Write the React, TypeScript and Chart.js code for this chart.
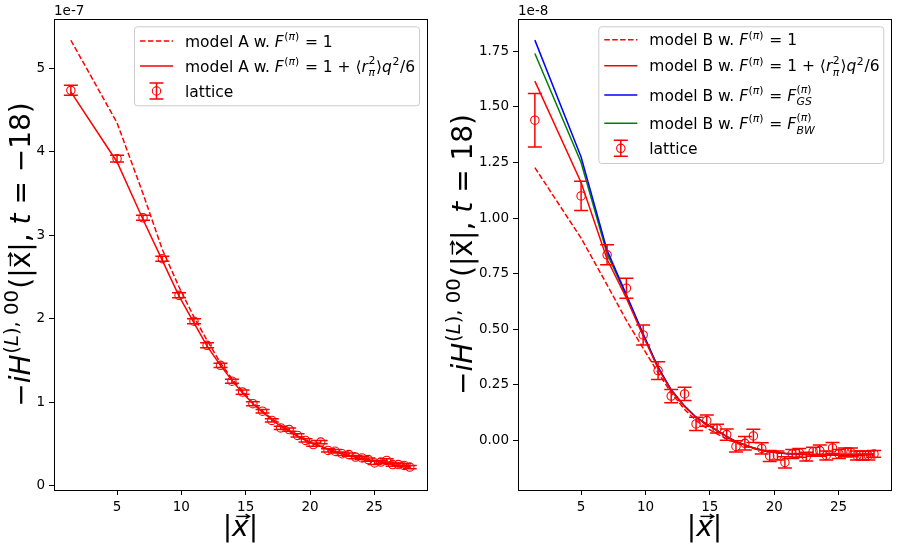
import { useEffect, useRef } from 'react';
import { Chart, registerables } from 'chart.js';
Chart.register(...registerables);

// ---------------- data ----------------
const X_ABS = [1.41, 5.0, 7.02, 8.52, 9.82, 10.98, 12.0, 13.04, 13.93, 14.76, 15.56, 16.31, 17.03, 17.72, 18.38, 19.03, 19.65, 20.25, 20.83, 21.4, 21.95, 22.49, 23.02, 23.54, 24.04, 24.53, 25.02, 25.5, 25.96, 26.42, 26.87, 27.31, 27.75];

// left panel, units of 1e-7
const A_LATTICE = [4.74, 3.92, 3.21, 2.72, 2.28, 1.97, 1.68, 1.44, 1.25, 1.12, 0.98, 0.89, 0.78, 0.69, 0.67, 0.60, 0.54, 0.49, 0.52, 0.42, 0.41, 0.38, 0.37, 0.34, 0.33, 0.31, 0.27, 0.28, 0.30, 0.25, 0.25, 0.24, 0.22];
const A_LATTICE_ERR = [0.06, 0.04, 0.03, 0.03, 0.03, 0.03, 0.03, 0.025, 0.025, 0.025, 0.025, 0.02, 0.02, 0.02, 0.02, 0.02, 0.02, 0.02, 0.02, 0.02, 0.02, 0.02, 0.02, 0.02, 0.02, 0.02, 0.02, 0.02, 0.02, 0.02, 0.02, 0.02, 0.02];
const A_MODEL_F1 = [5.34, 4.35, 3.50, 2.83, 2.38, 2.02, 1.74, 1.47, 1.28, 1.13, 0.99, 0.89, 0.80, 0.72, 0.66, 0.60, 0.55, 0.50, 0.47, 0.44, 0.41, 0.38, 0.36, 0.34, 0.32, 0.31, 0.29, 0.28, 0.27, 0.25, 0.24, 0.23, 0.22];
const A_MODEL_RADIUS = [4.72, 3.88, 3.19, 2.70, 2.27, 1.95, 1.67, 1.44, 1.26, 1.11, 0.98, 0.88, 0.79, 0.71, 0.65, 0.59, 0.54, 0.50, 0.47, 0.43, 0.40, 0.38, 0.36, 0.34, 0.32, 0.30, 0.29, 0.28, 0.26, 0.25, 0.24, 0.23, 0.22];

// right panel, units of 1e-8
const B_LATTICE = [1.44, 1.10, 0.835, 0.685, 0.475, 0.315, 0.20, 0.21, 0.075, 0.09, 0.054, 0.027, -0.026, -0.012, 0.021, -0.035, -0.069, -0.067, -0.098, -0.06, -0.055, -0.072, -0.05, -0.045, -0.067, -0.033, -0.06, -0.053, -0.053, -0.067, -0.067, -0.067, -0.06];
const B_LATTICE_ERR = [0.12, 0.066, 0.045, 0.045, 0.045, 0.04, 0.03, 0.03, 0.03, 0.025, 0.02, 0.025, 0.025, 0.03, 0.03, 0.025, 0.025, 0.02, 0.025, 0.02, 0.02, 0.02, 0.02, 0.025, 0.02, 0.025, 0.02, 0.02, 0.02, 0.02, 0.02, 0.02, 0.015];
const B_MODEL_F1 = [1.227, 0.91, 0.70, 0.54, 0.415, 0.305, 0.215, 0.14, 0.09, 0.056, 0.03, 0.008, -0.01, -0.025, -0.036, -0.045, -0.05, -0.055, -0.058, -0.06, -0.061, -0.062, -0.062, -0.062, -0.062, -0.062, -0.062, -0.062, -0.062, -0.062, -0.061, -0.061, -0.061];
const B_MODEL_RADIUS = [1.616, 1.16, 0.815, 0.64, 0.47, 0.325, 0.225, 0.153, 0.104, 0.073, 0.045, 0.018, -0.005, -0.02, -0.033, -0.043, -0.05, -0.054, -0.057, -0.059, -0.06, -0.061, -0.062, -0.062, -0.062, -0.062, -0.062, -0.062, -0.062, -0.062, -0.061, -0.061, -0.061];
const B_MODEL_GS = [1.80, 1.275, 0.855, 0.655, 0.48, 0.33, 0.228, 0.155, 0.105, 0.073, 0.045, 0.018, -0.005, -0.02, -0.033, -0.043, -0.05, -0.055, -0.058, -0.06, -0.062, -0.063, -0.064, -0.064, -0.065, -0.065, -0.065, -0.065, -0.065, -0.065, -0.065, -0.064, -0.064];
const B_MODEL_BW = [1.74, 1.25, 0.84, 0.65, 0.477, 0.328, 0.227, 0.155, 0.105, 0.074, 0.046, 0.019, -0.004, -0.019, -0.032, -0.042, -0.049, -0.054, -0.057, -0.059, -0.06, -0.061, -0.062, -0.062, -0.062, -0.062, -0.062, -0.062, -0.062, -0.062, -0.061, -0.061, -0.061];

const X_TICKS = [5, 10, 15, 20, 25];
const A_Y_TICKS = [0, 1, 2, 3, 4, 5];
const B_Y_TICKS = [0, 0.25, 0.5, 0.75, 1.0, 1.25, 1.5, 1.75];

// ---------------- rich text ----------------
type Seg = { t?: string; it?: boolean; vec?: boolean; sup?: Seg[]; sub?: Seg[] };
const FONT = '"DejaVu Sans"';

const F_PI: Seg[] = [{ t: 'F', it: true }, { sup: [{ t: '(' }, { t: 'π', it: true }, { t: ')' }] }];
const RADIUS_TXT: Seg[] = [{ t: ' = 1 + ⟨' }, { t: 'r', it: true }, { sup: [{ t: '2' }], sub: [{ t: 'π', it: true }] }, { t: '⟩' }, { t: 'q', it: true }, { sup: [{ t: '2' }] }, { t: '/6' }];
const X_TITLE: Seg[] = [{ t: '|' }, { t: 'x', it: true, vec: true }, { t: '|' }];
const Y_TITLE_A: Seg[] = [{ t: '−' }, { t: 'iH', it: true }, { sup: [{ t: '(' }, { t: 'L', it: true }, { t: '), 00' }] }, { t: '(|' }, { t: 'x', vec: true }, { t: '|, ' }, { t: 't', it: true }, { t: ' = −18)' }];
const Y_TITLE_B: Seg[] = [{ t: '−' }, { t: 'iH', it: true }, { sup: [{ t: '(' }, { t: 'L', it: true }, { t: '), 00' }] }, { t: '(|' }, { t: 'x', vec: true }, { t: '|, ' }, { t: 't', it: true }, { t: ' = 18)' }];

function drawSegs(ctx: CanvasRenderingContext2D, segs: Seg[], x: number, y: number, size: number, draw: boolean): number {
  let cx = x;
  for (const s of segs) {
    if (s.t !== undefined) {
      ctx.font = `${s.it ? 'italic ' : ''}${size}px ${FONT}`;
      const w = ctx.measureText(s.t).width;
      if (draw) {
        ctx.fillText(s.t, cx, y);
        if (s.vec) {
          const sh = s.it ? size * 0.08 : 0;
          const a0 = cx + w * 0.12 + sh, a1 = cx + w * 0.92 + sh, ay = y - size * 0.7;
          ctx.save();
          ctx.lineWidth = size * 0.05;
          ctx.strokeStyle = ctx.fillStyle as string;
          ctx.beginPath(); ctx.moveTo(a0, ay); ctx.lineTo(a1, ay); ctx.stroke();
          ctx.beginPath();
          ctx.moveTo(a1 - size * 0.14, ay - size * 0.08); ctx.lineTo(a1, ay); ctx.lineTo(a1 - size * 0.14, ay + size * 0.08);
          ctx.stroke();
          ctx.restore();
        }
      }
      cx += w;
    }
    if (s.sup || s.sub) {
      const sz = size * 0.7;
      const both = !!(s.sup && s.sub);
      let w1 = 0, w2 = 0;
      if (s.sup) w1 = drawSegs(ctx, s.sup, cx + size * 0.03, y - size * (both ? 0.5 : 0.42), sz, draw);
      if (s.sub) w2 = drawSegs(ctx, s.sub, cx + size * 0.03, y + size * (both ? 0.3 : 0.2), sz, draw);
      cx += Math.max(w1, w2) + size * 0.08;
    }
  }
  return cx - x;
}

// ---------------- panels ----------------
type LegendEntry = { kind: 'dash' | 'line' | 'err'; color: string; segs: Seg[] };
type Panel = {
  canvasLeft: number; canvasW: number;
  yMin: number; yMax: number; yTicks: number[]; yFmt: (v: number) => string;
  yAxisW: number; padRight: number; offsetText: string; yTitle: Seg[]; yTitleGap: number;
  lines: { data: number[]; color: string; dash: boolean }[];
  lattice: number[]; err: number[];
  legendH: number; legendRows: number[]; legend: LegendEntry[];
};

const RED = '#ff0000';
const PANELS: Panel[] = [
  {
    canvasLeft: 0, canvasW: 432,
    yMin: -0.055, yMax: 5.595, yTicks: A_Y_TICKS, yFmt: (v) => String(v),
    yAxisW: 54, padRight: 5, offsetText: '1e-7', yTitle: Y_TITLE_A, yTitleGap: 24,
    lines: [
      { data: A_MODEL_F1, color: RED, dash: true },
      { data: A_MODEL_RADIUS, color: RED, dash: false },
    ],
    lattice: A_LATTICE, err: A_LATTICE_ERR,
    legendH: 79, legendRows: [14.7, 39.7, 64.7],
    legend: [
      { kind: 'dash', color: RED, segs: [{ t: 'model A w. ' }, ...F_PI, { t: ' = 1' }] },
      { kind: 'line', color: RED, segs: [{ t: 'model A w. ' }, ...F_PI, ...RADIUS_TXT] },
      { kind: 'err', color: RED, segs: [{ t: 'lattice' }] },
    ],
  },
  {
    canvasLeft: 432, canvasW: 466,
    yMin: -0.222, yMax: 1.895, yTicks: B_Y_TICKS, yFmt: (v) => v.toFixed(2),
    yAxisW: 86, padRight: 7, offsetText: '1e-8', yTitle: Y_TITLE_B, yTitleGap: 46,
    lines: [
      { data: B_MODEL_F1, color: RED, dash: true },
      { data: B_MODEL_RADIUS, color: RED, dash: false },
      { data: B_MODEL_GS, color: '#0000ff', dash: false },
      { data: B_MODEL_BW, color: '#008000', dash: false },
    ],
    lattice: B_LATTICE, err: B_LATTICE_ERR,
    legendH: 136.7, legendRows: [13.4, 39.4, 68.7, 97, 122],
    legend: [
      { kind: 'dash', color: RED, segs: [{ t: 'model B w. ' }, ...F_PI, { t: ' = 1' }] },
      { kind: 'line', color: RED, segs: [{ t: 'model B w. ' }, ...F_PI, ...RADIUS_TXT] },
      { kind: 'line', color: '#0000ff', segs: [{ t: 'model B w. ' }, ...F_PI, { t: ' = ' }, { t: 'F', it: true }, { sup: [{ t: '(' }, { t: 'π', it: true }, { t: ')' }], sub: [{ t: 'GS', it: true }] }] },
      { kind: 'line', color: '#008000', segs: [{ t: 'model B w. ' }, ...F_PI, { t: ' = ' }, { t: 'F', it: true }, { sup: [{ t: '(' }, { t: 'π', it: true }, { t: ')' }], sub: [{ t: 'BW', it: true }] }] },
      { kind: 'err', color: RED, segs: [{ t: 'lattice' }] },
    ],
  },
];

const CH = 547;
const TOP = 19, BOTTOM = 490;
const TICK_FONT = 13.5;
const LEGEND_FONT = 15.5;
const TITLE_FONT = 28;
const DASH = [5.5, 2.4];
const CAP = 7;
const LEG_W = 285;

function drawErr(ctx: CanvasRenderingContext2D, x: number, y1: number, y2: number) {
  ctx.beginPath();
  ctx.moveTo(x, y1); ctx.lineTo(x, y2);
  ctx.moveTo(x - CAP, y1); ctx.lineTo(x + CAP, y1);
  ctx.moveTo(x - CAP, y2); ctx.lineTo(x + CAP, y2);
  ctx.stroke();
}

function makeConfig(p: Panel): any {
  const datasets: any[] = p.lines.map((l) => ({
    data: X_ABS.map((x, i) => ({ x, y: l.data[i] })),
    showLine: true, borderColor: l.color, borderWidth: 1.5, borderDash: l.dash ? DASH : [],
    pointRadius: 0, tension: 0, fill: false,
  }));
  datasets.push({
    data: X_ABS.map((x, i) => ({ x, y: p.lattice[i] })),
    showLine: false, pointRadius: 4.2, pointBorderWidth: 1.1,
    pointBorderColor: RED, pointBackgroundColor: 'rgba(0,0,0,0)', borderColor: RED,
  });

  const decor = {
    id: 'decor',
    afterDatasetsDraw(chart: any) {
      const ctx: CanvasRenderingContext2D = chart.ctx;
      const xs = chart.scales.x, ys = chart.scales.y;
      const ca = chart.chartArea;
      ctx.save();
      ctx.beginPath(); ctx.rect(ca.left, ca.top, ca.right - ca.left, ca.bottom - ca.top); ctx.clip();
      ctx.strokeStyle = RED; ctx.lineWidth = 1.5;
      X_ABS.forEach((x, i) => {
        const px = xs.getPixelForValue(x);
        drawErr(ctx, px, ys.getPixelForValue(p.lattice[i] + p.err[i]), ys.getPixelForValue(p.lattice[i] - p.err[i]));
      });
      ctx.restore();

      ctx.save();
      ctx.strokeStyle = '#000'; ctx.lineWidth = 1;
      ctx.strokeRect(Math.round(ca.left) + 0.5, Math.round(ca.top) + 0.5, Math.round(ca.right - ca.left), Math.round(ca.bottom - ca.top));

      // legend
      const bx = ca.right - 7.7 - LEG_W, by = ca.top + 7.3;
      ctx.beginPath();
      (ctx as any).roundRect(bx + 0.5, by + 0.5, LEG_W, p.legendH, 3);
      ctx.fillStyle = 'rgba(255,255,255,0.8)'; ctx.fill();
      ctx.strokeStyle = '#cccccc'; ctx.lineWidth = 1; ctx.stroke();
      p.legend.forEach((e, i) => {
        const ry = by + p.legendRows[i];
        const h0 = bx + 6, h1 = bx + 39;
        ctx.strokeStyle = e.color; ctx.lineWidth = 1.5;
        if (e.kind === 'err') {
          const hc = (h0 + h1) / 2;
          drawErr(ctx, hc, ry - 8, ry + 8);
          ctx.lineWidth = 1.1;
          ctx.beginPath(); ctx.arc(hc, ry, 4.2, 0, Math.PI * 2); ctx.stroke();
        } else {
          ctx.setLineDash(e.kind === 'dash' ? DASH : []);
          ctx.beginPath(); ctx.moveTo(h0, ry); ctx.lineTo(h1, ry); ctx.stroke();
          ctx.setLineDash([]);
        }
        ctx.fillStyle = '#000'; ctx.textBaseline = 'alphabetic'; ctx.textAlign = 'left';
        drawSegs(ctx, e.segs, bx + 51, ry + 5.6, LEGEND_FONT, true);
      });

      // offset text
      ctx.fillStyle = '#000';
      ctx.font = `${TICK_FONT}px ${FONT}`;
      ctx.textAlign = 'left'; ctx.textBaseline = 'alphabetic';
      ctx.fillText(p.offsetText, ca.left, ca.top - 4);

      // x title
      const cx = (ca.left + ca.right) / 2;
      const wx = drawSegs(ctx, X_TITLE, 0, 0, TITLE_FONT, false);
      drawSegs(ctx, X_TITLE, cx - wx / 2, 536, TITLE_FONT, true);

      // y title
      const cy = (ca.top + ca.bottom) / 2;
      ctx.save();
      ctx.translate(ca.left - p.yTitleGap, cy);
      ctx.rotate(-Math.PI / 2);
      const wy = drawSegs(ctx, p.yTitle, 0, 0, TITLE_FONT, false);
      drawSegs(ctx, p.yTitle, -wy / 2, 0, TITLE_FONT, true);
      ctx.restore();
      ctx.restore();
    },
  };

  const grid = { display: true, drawOnChartArea: false, drawTicks: true, tickLength: 5, color: '#000', lineWidth: 1 };
  return {
    type: 'scatter',
    data: { datasets },
    options: {
      animation: false, responsive: false, devicePixelRatio: 1,
      layout: { padding: { left: 0, right: p.padRight, top: TOP, bottom: 0 } },
      plugins: { legend: { display: false }, tooltip: { enabled: false } },
      scales: {
        x: {
          type: 'linear', min: 0.1, max: 29.07,
          afterBuildTicks: (s: any) => { s.ticks = X_TICKS.map((v) => ({ value: v })); },
          afterFit: (s: any) => { s.height = CH - BOTTOM; },
          grid, border: { display: false },
          ticks: { color: '#000', font: { family: 'DejaVu Sans', size: TICK_FONT }, padding: 4, maxRotation: 0, autoSkip: false, callback: (v: any) => String(v) },
        },
        y: {
          type: 'linear', min: p.yMin, max: p.yMax,
          afterBuildTicks: (s: any) => { s.ticks = p.yTicks.map((v) => ({ value: v })); },
          afterFit: (s: any) => { s.width = p.yAxisW; },
          grid, border: { display: false },
          ticks: { color: '#000', font: { family: 'DejaVu Sans', size: TICK_FONT }, padding: 4, autoSkip: false, callback: (v: any) => p.yFmt(Number(v)) },
        },
      },
    },
    plugins: [decor],
  };
}

function PanelChart({ panel }: { panel: Panel }) {
  const ref = useRef<HTMLCanvasElement>(null);
  useEffect(() => {
    if (!ref.current) return;
    const chart = new Chart(ref.current, makeConfig(panel));
    return () => chart.destroy();
  }, [panel]);
  return <canvas ref={ref} width={panel.canvasW} height={CH} style={{ position: 'absolute', left: panel.canvasLeft, top: 0, width: panel.canvasW, height: CH }} />;
}

export default function App() {
  return (
    <div style={{ position: 'fixed', left: 0, top: 0, width: 898, height: 547, background: '#fff', overflow: 'hidden' }}>
      <PanelChart panel={PANELS[0]} />
      <PanelChart panel={PANELS[1]} />
    </div>
  );
}
